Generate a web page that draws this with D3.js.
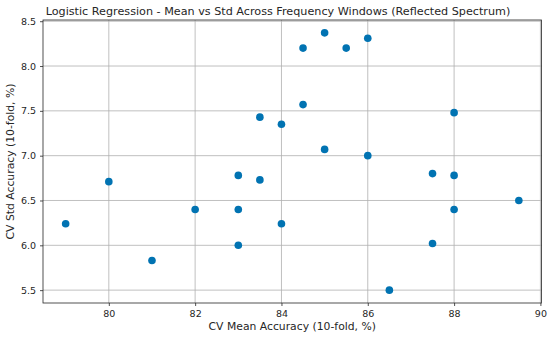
<!DOCTYPE html>
<html>
<head>
<meta charset="utf-8">
<script src="https://cdn.jsdelivr.net/npm/d3@7"></script>
<style>
    body { margin: 0; background: #fff; }
    text { font-family: "DejaVu Sans", sans-serif; fill: #262626; }
</style>
</head>
<body>
<div class="chart"></div>
<script>
// CV mean accuracy (x) and CV std accuracy (y) per frequency window
var meanAcc = [79, 80, 81, 82, 83, 83, 83, 83.5, 83.5, 84, 84, 84.5, 84.5,
               85, 85, 85.5, 86, 86, 86.5, 87.5, 87.5, 88, 88, 88, 89.5];
var stdAcc = [6.24, 6.71, 5.83, 6.40, 6.78, 6.40, 6.00, 6.73, 7.43, 7.35, 6.24, 7.57, 8.20,
              8.37, 7.07, 8.20, 8.31, 7.00, 5.50, 6.80, 6.02, 7.48, 6.78, 6.40, 6.50];
var xTicks = [80, 82, 84, 86, 88, 90];
var yTicks = [5.5, 6.0, 6.5, 7.0, 7.5, 8.0, 8.5];

var points = meanAcc.map(function (m, i) {
    return {mean: m, std: stdAcc[i]};
});

var width = 550, height = 339;
var margin = {top: 20, right: 8.5, bottom: 36, left: 43};

var svg = d3.select(".chart")
    .append("svg")
    .attr("width", width)
    .attr("height", height);

// matplotlib style 5% padding around the data
var xPad = (d3.max(meanAcc) - d3.min(meanAcc)) * 0.05;
var yPad = (d3.max(stdAcc) - d3.min(stdAcc)) * 0.05;

var xScale = d3.scaleLinear()
    .domain([d3.min(meanAcc) - xPad, d3.max(meanAcc) + xPad])
    .range([margin.left, width - margin.right]);

var yScale = d3.scaleLinear()
    .domain([d3.min(stdAcc) - yPad, d3.max(stdAcc) + yPad])
    .range([height - margin.bottom, margin.top]);

// grid
svg.append("g")
    .selectAll("line")
    .data(xTicks.filter(function (t) { return xScale(t) < width - margin.right - 1; }))
    .enter()
    .append("line")
    .attr("x1", function (d) { return xScale(d); })
    .attr("x2", function (d) { return xScale(d); })
    .attr("y1", margin.top)
    .attr("y2", height - margin.bottom)
    .style("stroke", "#b0b0b0")
    .style("stroke-width", 0.8);

svg.append("g")
    .selectAll("line")
    .data(yTicks)
    .enter()
    .append("line")
    .attr("x1", margin.left)
    .attr("x2", width - margin.right)
    .attr("y1", function (d) { return yScale(d); })
    .attr("y2", function (d) { return yScale(d); })
    .style("stroke", "#b0b0b0")
    .style("stroke-width", 0.8);

// axes
var xAxis = svg.append("g")
    .attr("transform", "translate(0," + (height - margin.bottom) + ")")
    .call(d3.axisBottom(xScale).tickValues(xTicks).tickSize(3).tickPadding(4).tickSizeOuter(0));

var yAxis = svg.append("g")
    .attr("transform", "translate(" + margin.left + ",0)")
    .call(d3.axisLeft(yScale).tickValues(yTicks).tickFormat(d3.format(".1f"))
        .tickSize(3).tickPadding(4).tickSizeOuter(0));

[xAxis, yAxis].forEach(function (a) {
    a.selectAll("text")
        .style("font-family", "DejaVu Sans, sans-serif")
        .style("font-size", "9.5px")
        .style("fill", "#262626");
    a.selectAll("line").style("stroke", "#262626").style("stroke-width", 0.8);
    a.select(".domain").remove();
});

// frame
svg.append("rect")
    .attr("x", margin.left)
    .attr("y", margin.top)
    .attr("width", width - margin.left - margin.right)
    .attr("height", height - margin.top - margin.bottom)
    .style("fill", "none")
    .style("stroke", "#262626")
    .style("stroke-width", 0.8);

// points
svg.append("g")
    .selectAll("circle")
    .data(points)
    .enter()
    .append("circle")
    .attr("cx", function (d) { return xScale(d.mean); })
    .attr("cy", function (d) { return yScale(d.std); })
    .attr("r", 3.8)
    .style("fill", "#0173b2");

// labels
svg.append("text")
    .attr("x", 278)
    .attr("y", 15)
    .attr("text-anchor", "middle")
    .style("font-size", "11.2px")
    .text("Logistic Regression - Mean vs Std Across Frequency Windows (Reflected Spectrum)");

svg.append("text")
    .attr("x", (margin.left + width - margin.right) / 2)
    .attr("y", 330)
    .attr("text-anchor", "middle")
    .style("font-size", "10.8px")
    .text("CV Mean Accuracy (10-fold, %)");

svg.append("text")
    .attr("transform", "translate(14," + ((margin.top + height - margin.bottom) / 2) + ") rotate(-90)")
    .attr("text-anchor", "middle")
    .style("font-size", "10.8px")
    .text("CV Std Accuracy (10-fold, %)");
</script>
</body>
</html>
